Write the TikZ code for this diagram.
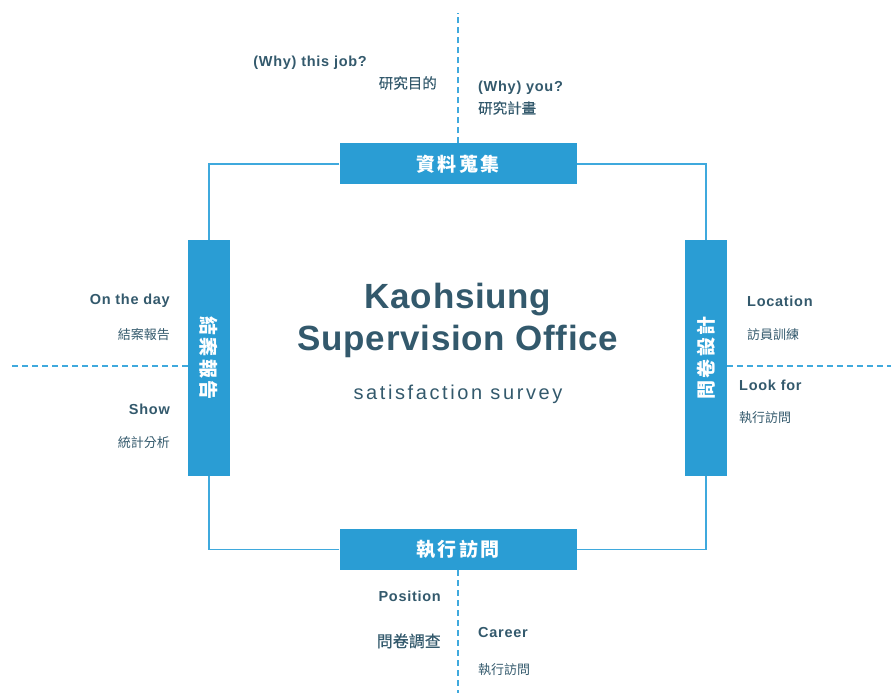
\documentclass[tikz,border=0pt]{standalone}
\usepackage{fontspec}
\usepackage{graphicx}
\setmainfont{Liberation Sans}
\newfontfamily\cjk{Noto Sans CJK TC}
\newfontfamily\cjkmid[FakeBold=0.5]{Noto Sans CJK TC}
\definecolor{boxblue}{HTML}{2A9DD4}
\definecolor{lineblue}{HTML}{3FA9DD}
\definecolor{textslate}{HTML}{33596C}
\tikzset{
	stage/.style={fill=boxblue, text=white, inner sep=0pt,
		font=\cjk\bfseries\addfontfeature{LetterSpace=12}\fontsize{19}{19}\selectfont},
	frame/.style={lineblue, line width=1.3pt},
	split/.style={lineblue, dash pattern=on 6pt off 4pt, line width=1.8pt},
	head/.style={text=textslate, inner sep=0pt,
		font=\bfseries\addfontfeature{LetterSpace=5}\fontsize{14.5}{14.5}\selectfont},
	note/.style={text=textslate, inner sep=0pt, font=\cjk\fontsize{13}{13}\selectfont},
	bignote/.style={text=textslate, inner sep=0pt, font=\cjkmid\fontsize{14.5}{14.5}\selectfont},
	title/.style={text=textslate, inner sep=0pt,
		font=\bfseries\addfontfeature{LetterSpace=2}\fontsize{35}{35}\selectfont},
}
\begin{document}
\begin{tikzpicture}[x=1pt, y=-1pt]
	\useasboundingbox (0,0) rectangle (891,695);
	% four stages
	\node[stage, minimum width=237pt, minimum height=41pt] (collect) at (458,164) {資料蒐集};
	\node[stage, minimum width=237pt, minimum height=41pt] (visit) at (458,549.5) {執行訪問};
	\node[stage, minimum width=42pt, minimum height=236pt] (report) at (209,358) {\rotatebox{-90}{結案報告}};
	\node[stage, minimum width=42pt, minimum height=236pt] (design) at (706,358) {\rotatebox{90}{問卷設計}};
	% frame between stages
	\draw[frame] (collect.west) -| (report.north);
	\draw[frame] (collect.east) -| (design.north);
	\draw[frame] (visit.west) -| (report.south);
	\draw[frame] (visit.east) -| (design.south);
	% dashed axes
	\coordinate (up) at (458,13);
	\coordinate (down) at (458,693);
	\coordinate (lefty) at (10,366);
	\coordinate (righty) at (891,366);
	\draw[split] (collect.north) -- (up);
	\draw[split] (visit.south) -- (down);
	\draw[split] (report.west |- lefty) -- (lefty);
	\draw[split] (design.east |- righty) -- (righty);
	% title
	\node[title] (city) at (458,300) {Kaohsiung};
	\node[title] (office) at (458,341) {Supervision Office};
	\node[text=textslate, inner sep=0pt, font=\addfontfeature{LetterSpace=13}\fontsize{20}{20}\selectfont] (survey) at (458,394) {satisfaction survey};
	% labels
	\node[head, anchor=east] (whyjob) at (367,63) {(Why) this job?};
	\node[bignote, anchor=east] (aim) at (437,83) {研究目的};
	\node[head, anchor=west] (whyyou) at (478,88) {(Why) you?};
	\node[bignote, anchor=west] (plan) at (478,108) {研究計畫};
	\node[head, anchor=east] (day) at (170,301) {On the day};
	\node[note, anchor=east] (close) at (170,335) {結案報告};
	\node[head, anchor=east] (show) at (170,409) {Show};
	\node[note, anchor=east] (stats) at (170,443) {統計分析};
	\node[head, anchor=west] (where) at (747,301) {Location};
	\node[note, anchor=west] (train) at (747,335) {訪員訓練};
	\node[head, anchor=west] (look) at (739,385) {Look for};
	\node[note, anchor=west] (run) at (739,418) {執行訪問};
	\node[head, anchor=east] (pos) at (441,596) {Position};
	\node[bignote, anchor=east, font=\cjkmid\fontsize{16}{16}\selectfont] (quest) at (441,641) {問卷調查};
	\node[head, anchor=west] (career) at (478,633) {Career};
	\node[note, anchor=west] (run2) at (478,670) {執行訪問};
\end{tikzpicture}
\end{document}
